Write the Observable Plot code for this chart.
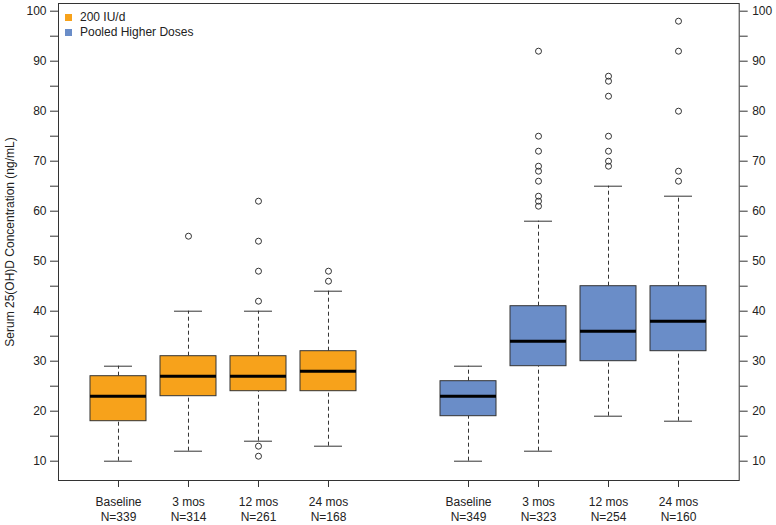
<!DOCTYPE html>
<html><head><meta charset="utf-8">
<script src="https://cdn.jsdelivr.net/npm/d3@7"></script>
<script src="https://cdn.jsdelivr.net/npm/@observablehq/plot@0.6"></script>
<style>
body{margin:0;background:#fff;font-family:"Liberation Sans",Arial,sans-serif;}
#wrap{position:relative;width:776px;height:525px;}
.legend{position:absolute;left:65px;top:10px;font-size:12px;color:#222;line-height:15px;}
.legend div{display:flex;align-items:center;}
.sw{display:inline-block;width:7px;height:7px;margin-right:8px;}
</style>
</head><body>
<div id="wrap"></div>
<script>
const groups = ["200 IU/d", "Pooled Higher Doses"];
const groupColors = ["#F7A21B", "#6A8DC8"];
const timepoints = ["Baseline", "3 mos", "12 mos", "24 mos"];
const sampleSizes = [[339, 314, 261, 168], [349, 323, 254, 160]];
const whiskerLow = [[10, 12, 14, 13], [10, 12, 19, 18]];
const q1 = [[18, 23, 24, 24], [19, 29, 30, 32]];
const medians = [[23, 27, 27, 28], [23, 34, 36, 38]];
const q3 = [[27, 31, 31, 32], [26, 41, 45, 45]];
const whiskerHigh = [[29, 40, 40, 44], [29, 58, 65, 63]];
const outliers = [
  [[], [55], [11, 13, 42, 48, 54, 62], [46, 48]],
  [[], [61, 62, 63, 66, 68, 69, 72, 75, 92], [69, 70, 72, 75, 83, 86, 87], [66, 68, 80, 92, 98]]
];

const boxes = [];
const points = [];
groups.forEach((g, gi) => {
  timepoints.forEach((t, ti) => {
    const pos = gi * (timepoints.length + 1) + ti + 1;
    boxes.push({group: g, pos, label: `${t}\nN=${sampleSizes[gi][ti]}`,
      lo: whiskerLow[gi][ti], q1: q1[gi][ti], med: medians[gi][ti], q3: q3[gi][ti], hi: whiskerHigh[gi][ti]});
    outliers[gi][ti].forEach(v => points.push({pos, value: v}));
  });
});
const labelByPos = new Map(boxes.map(d => [d.pos, d.label]));
const half = 0.4, cap = 0.2;
const ink = "#333";

const chart = Plot.plot({
  width: 776, height: 525,
  marginLeft: 58, marginRight: 37.3, marginTop: 3, marginBottom: 45,
  style: {fontFamily: '"Liberation Sans", Arial, sans-serif', fontSize: "12px", color: "#222", background: "#fff"},
  x: {type: "linear", domain: [0.143, 9.867]},
  y: {domain: [6.14, 101.54]},
  color: {domain: groups, range: groupColors},
  marks: [
    Plot.ruleX(boxes, {x: "pos", y1: "q3", y2: "hi", stroke: ink, strokeDasharray: "4,3"}),
    Plot.ruleX(boxes, {x: "pos", y1: "lo", y2: "q1", stroke: ink, strokeDasharray: "4,3"}),
    Plot.ruleY(boxes, {y: "hi", x1: d => d.pos - cap, x2: d => d.pos + cap, stroke: ink}),
    Plot.ruleY(boxes, {y: "lo", x1: d => d.pos - cap, x2: d => d.pos + cap, stroke: ink}),
    Plot.rect(boxes, {x1: d => d.pos - half, x2: d => d.pos + half, y1: "q1", y2: "q3", fill: "group", stroke: ink, strokeWidth: 1}),
    Plot.ruleY(boxes, {y: "med", x1: d => d.pos - half, x2: d => d.pos + half, stroke: "#000", strokeWidth: 3}),
    Plot.dot(points, {x: "pos", y: "value", r: 3, stroke: ink, fill: "none", strokeWidth: 1}),
    Plot.axisY({anchor: "left", ticks: d3.range(10, 101, 5), tickFormat: d => d % 10 === 0 ? d : "", tickSize: 8, tickPadding: 4,
      label: "Serum 25(OH)D Concentration (ng/mL)", labelAnchor: "center", labelArrow: "none", labelOffset: 53, stroke: ink}),
    Plot.axisY({anchor: "right", ticks: d3.range(10, 101, 5), tickFormat: d => d % 10 === 0 ? d : "", tickSize: 8, tickPadding: 5, label: null, stroke: ink}),
    Plot.axisX({anchor: "bottom", ticks: boxes.map(d => d.pos), tickFormat: d => labelByPos.get(d), tickSize: 7, tickPadding: 8, lineHeight: 1.22, label: null, stroke: ink}),
    Plot.frame({stroke: ink})
  ]
});
const wrap = document.getElementById("wrap");
wrap.appendChild(chart);
const legend = document.createElement("div");
legend.className = "legend";
groups.forEach((g, i) => {
  const row = document.createElement("div");
  const sw = document.createElement("span");
  sw.className = "sw"; sw.style.background = groupColors[i];
  row.appendChild(sw);
  row.appendChild(document.createTextNode(g));
  legend.appendChild(row);
});
wrap.appendChild(legend);
</script>
</body></html>
